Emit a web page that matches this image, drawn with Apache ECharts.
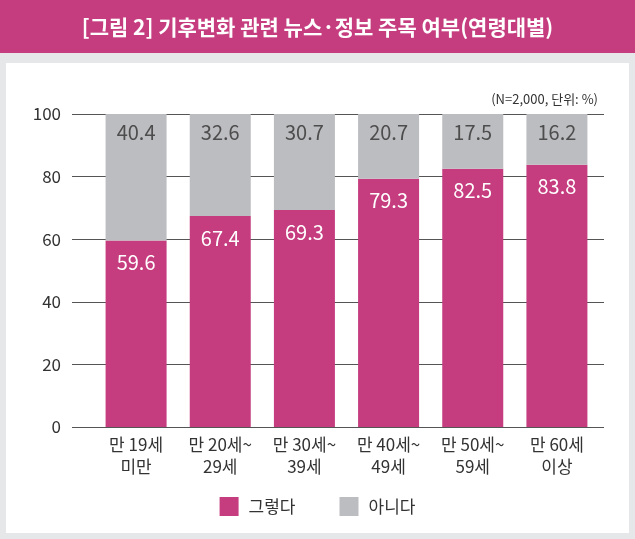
<!DOCTYPE html>
<html>
<head>
<meta charset="utf-8">
<script src="https://cdn.jsdelivr.net/npm/echarts@6/dist/echarts.min.js"></script>
<style>
  html, body { margin: 0; padding: 0; background: #e6e7e9; }
  #main { width: 635px; height: 539px; }
</style>
</head>
<body>
<div id="main"></div>
<script>
var ageGroups = ['만 19세\n미만', '만 20세~\n29세', '만 30세~\n39세', '만 40세~\n49세', '만 50세~\n59세', '만 60세\n이상'];
var yesValues = [59.6, 67.4, 69.3, 79.3, 82.5, 83.8];
var noValues = [40.4, 32.6, 30.7, 20.7, 17.5, 16.2];
var seriesNames = ['그렇다', '아니다'];

var pink = '#c53c7f';
var grey = '#bcbdc0';
var font = '"Noto Sans CJK KR", "Noto Sans", sans-serif';

var myChart = echarts.init(document.getElementById('main'));

var option = {
    backgroundColor: '#e6e7e9',
    textStyle: { fontFamily: font },
    animation: false,
    graphic: [
        { type: 'rect', z: -10, shape: { x: 0, y: 0, width: 635, height: 53 }, style: { fill: pink } },
        { type: 'rect', z: -10, shape: { x: 6, y: 63, width: 623, height: 470 }, style: { fill: '#ffffff' } }
    ],
    title: [
        {
            text: '[그림 2] 기후변화 관련 뉴스·정보 주목 여부(연령대별)',
            left: 'center',
            top: 12,
            textStyle: { color: '#ffffff', fontSize: 21, fontWeight: 'bold', fontFamily: font }
        },
        {
            text: '(N=2,000, 단위: %)',
            right: 32,
            top: 88,
            textStyle: { color: '#333333', fontSize: 13, fontWeight: 'normal', fontFamily: font }
        }
    ],
    legend: {
        data: seriesNames,
        left: 'center',
        top: 492,
        icon: 'rect',
        itemWidth: 19,
        itemHeight: 19,
        itemGap: 44,
        textStyle: { fontSize: 17, color: '#333333', fontFamily: font, padding: [0, 0, 0, 5] }
    },
    grid: [
        { left: 72, right: 31, top: 114, bottom: 112 },
        { left: 94, right: 36, top: 114, bottom: 112 }
    ],
    xAxis: [
        { gridIndex: 0, type: 'value', show: false },
        {
            gridIndex: 1,
            type: 'category',
            data: ageGroups,
            axisLine: { show: false },
            axisTick: { show: false },
            axisLabel: { fontSize: 17, lineHeight: 22, color: '#333333', margin: 7, fontFamily: font }
        }
    ],
    yAxis: [
        {
            gridIndex: 0,
            type: 'value',
            min: 0,
            max: 100,
            interval: 20,
            axisLine: { show: false },
            axisTick: { show: false },
            axisLabel: { fontSize: 17, color: '#333333', margin: 11, fontFamily: font },
            splitLine: { lineStyle: { color: '#555555', width: 1 } }
        },
        { gridIndex: 1, type: 'value', min: 0, max: 100, show: false }
    ],
    series: [
        {
            name: seriesNames[0],
            type: 'bar',
            stack: 'total',
            xAxisIndex: 1,
            yAxisIndex: 1,
            barWidth: 61,
            itemStyle: { color: pink },
            label: { show: true, position: 'insideTop', distance: 12, color: '#ffffff', fontSize: 20, fontFamily: font },
            data: yesValues
        },
        {
            name: seriesNames[1],
            type: 'bar',
            stack: 'total',
            xAxisIndex: 1,
            yAxisIndex: 1,
            barWidth: 61,
            itemStyle: { color: grey },
            label: { show: true, position: 'insideTop', distance: 8, color: '#4d4d4d', fontSize: 20, fontFamily: font },
            data: noValues
        }
    ]
};
myChart.setOption(option);
</script>
</body>
</html>
